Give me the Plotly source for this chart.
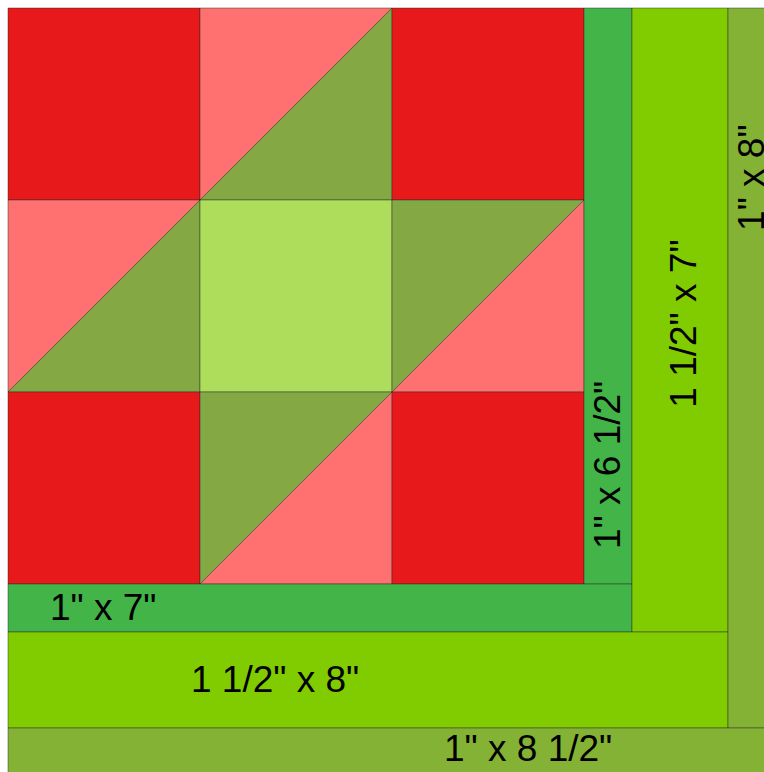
import plotly.graph_objects as go

# Nine-patch block (finished inches): squares of 2"
sq_x0 = [0, 2, 4, 0, 2, 4, 0, 2, 4]
sq_y0 = [0, 0, 0, 2, 2, 2, 4, 4, 4]
sq_kind = ["red", "hst_a", "red", "hst_a", "center", "hst_b", "red", "hst_b", "red"]
sq_size = 2

# Border strips: x0, x1, y0, y1 (finished inches), colour, label
strip_names = ["1\" x 6 1/2\"", "1\" x 7\"", "1 1/2\" x 7\"", "1 1/2\" x 8\"", "1\" x 8\"", "1\" x 8 1/2\""]
strip_x0 = [6.0, 0.0, 6.5, 0.0, 7.5, 0.0]
strip_x1 = [6.5, 6.5, 7.5, 7.5, 8.0, 8.0]
strip_y0 = [0.0, 6.0, 0.0, 6.5, 0.0, 7.5]
strip_y1 = [6.0, 6.5, 6.5, 7.5, 7.5, 8.0]
strip_col = ["#42B448", "#42B448", "#80CC00", "#80CC00", "#84B234", "#84B234"]
label_x = [6.25, 0.99, 7.04, 2.78, 7.75, 5.42]
label_y = [4.76, 6.24, 3.29, 6.99, 1.77, 7.71]
label_angle = [-90, 0, -90, 0, -90, 0]

RED = "#E8191A"
SALMON = "#FF7070"
OLIVE = "#84A843"
LIGHT = "#AEDD5B"
EDGE = "rgba(40,40,40,0.45)"

fig = go.Figure()


def poly(xs, ys, color):
    fig.add_trace(go.Scatter(
        x=xs + [xs[0]], y=ys + [ys[0]], mode="lines", fill="toself",
        fillcolor=color, line=dict(color=EDGE, width=1),
        hoverinfo="skip", showlegend=False))


for x0, y0, kind in zip(sq_x0, sq_y0, sq_kind):
    x1, y1 = x0 + sq_size, y0 + sq_size
    if kind == "red":
        poly([x0, x1, x1, x0], [y0, y0, y1, y1], RED)
    elif kind == "center":
        poly([x0, x1, x1, x0], [y0, y0, y1, y1], LIGHT)
    elif kind == "hst_a":
        # diagonal bottom-left to top-right; upper-left salmon
        poly([x0, x1, x0], [y0, y0, y1], SALMON)
        poly([x1, x1, x0], [y0, y1, y1], OLIVE)
    else:
        # upper-left olive, lower-right salmon
        poly([x0, x1, x0], [y0, y0, y1], OLIVE)
        poly([x1, x1, x0], [y0, y1, y1], SALMON)

for x0, x1, y0, y1, c in zip(strip_x0, strip_x1, strip_y0, strip_y1, strip_col):
    poly([x0, x1, x1, x0], [y0, y0, y1, y1], c)

for name, lx, ly, ang in zip(strip_names, label_x, label_y, label_angle):
    fig.add_annotation(x=lx, y=ly, text=name, showarrow=False, textangle=ang,
                       font=dict(family="Liberation Sans, Arial", size=37, color="#000000"))

fig.update_xaxes(range=[-8 / 96, 756 / 96], visible=False, showgrid=False, zeroline=False)
fig.update_yaxes(range=[764 / 96, -8 / 96], visible=False, showgrid=False, zeroline=False)
fig.update_layout(width=764, height=772, margin=dict(l=0, r=0, t=0, b=0),
                  paper_bgcolor="white", plot_bgcolor="white")

fig.write_html("out.html", config={"displayModeBar": False},
               post_script="document.body.style.margin='0';document.body.style.overflow='hidden';")
